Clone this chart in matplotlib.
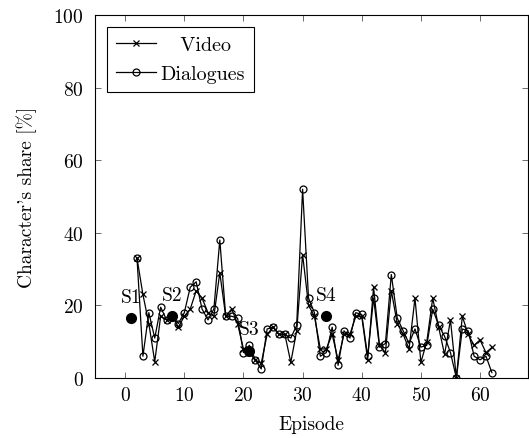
# Character's share per episode: video vs dialogues

import matplotlib.pyplot as plt
import numpy as np

plt.rcParams["font.family"] = "serif"
plt.rcParams["font.serif"] = ["cmr10", "DejaVu Serif"]
plt.rcParams["axes.formatter.use_mathtext"] = True
plt.rcParams["mathtext.fontset"] = "cm"

# Episodes with data
episodes = np.arange(2, 63)

# Share of screen time (video) in %
video = [33, 23, 15, 4.5, 17, 16, 17, 14, 17, 19,
         24, 22, 18, 17, 29, 17, 19, 15, 8, 7,
         5, 4, 12, 14, 12, 12, 4.3, 13, 34, 20,
         17, 8, 8, 12, 5, 12, 12, 17, 17, 5,
         25, 9, 7, 24, 15, 12, 8, 22, 4.3, 10,
         22, 14, 6.5, 16, 0, 17, 12, 9, 10.5, 7,
         8.4]

# Share of dialogues in %
dialogues = [33, 6, 18, 11, 19.5, 16, 17, 15, 18, 25,
             26.5, 19, 16, 19, 38, 17, 17, 16.5, 7, 9,
             5, 2.5, 13.5, 14, 12, 12, 11, 14.5, 52, 22,
             18, 6, 7, 14, 3.5, 13, 11, 18, 17.5, 6,
             22, 8.5, 9.5, 28.5, 16.5, 13, 9.5, 13.5, 8.5, 9,
             19, 14.5, 11.5, 7, 0, 13.5, 13, 6, 5, 6,
             1.5]

# Season starts
season_labels = ["S1", "S2", "S3", "S4"]
season_ep = [1, 8, 21, 34]
season_val = [16.5, 17, 7.5, 17]

fig = plt.figure(figsize=(5.29, 4.39), dpi=100)
ax = fig.add_axes([0.1796, 0.1367, 0.8184, 0.8269])

ax.plot(episodes, video, color="black", lw=0.9, marker="x", ms=4, mew=0.9,
        label="   Video")
ax.plot(episodes, dialogues, color="black", lw=0.9, marker="o", ms=5, mew=0.9,
        mfc="none", label="Dialogues")

ax.plot(season_ep, season_val, "o", color="black", ms=7, zorder=5)
for lab, xx, yy in zip(season_labels, season_ep, season_val):
    ax.annotate(lab, (xx, yy), xytext=(0, 9), textcoords="offset points",
                ha="center", va="bottom", fontsize=14)

ax.set_xlim(-5.1, 68.1)
ax.set_ylim(0, 100)
ax.set_xticks(range(0, 61, 10))
ax.set_yticks(range(0, 101, 20))
ax.tick_params(direction="in", top=True, right=True, length=4, width=0.6,
               labelsize=14, color="#555555")
ax.tick_params(axis="y", pad=8)
ax.tick_params(axis="x", pad=6)
for sp in ax.spines.values():
    sp.set_linewidth(0.8)

ax.set_xlabel("Episode", fontsize=14, labelpad=8)
ax.set_ylabel("Character's share [%]", fontsize=14, labelpad=12)

leg = ax.legend(loc="upper left", fontsize=14.5, fancybox=False,
                edgecolor="black", framealpha=1, handlelength=2.0,
                handletextpad=0.2, borderaxespad=0.6, borderpad=0.45,
                labelspacing=0.55)
leg.get_frame().set_linewidth(0.8)

fig.savefig("out.png", dpi=100)
